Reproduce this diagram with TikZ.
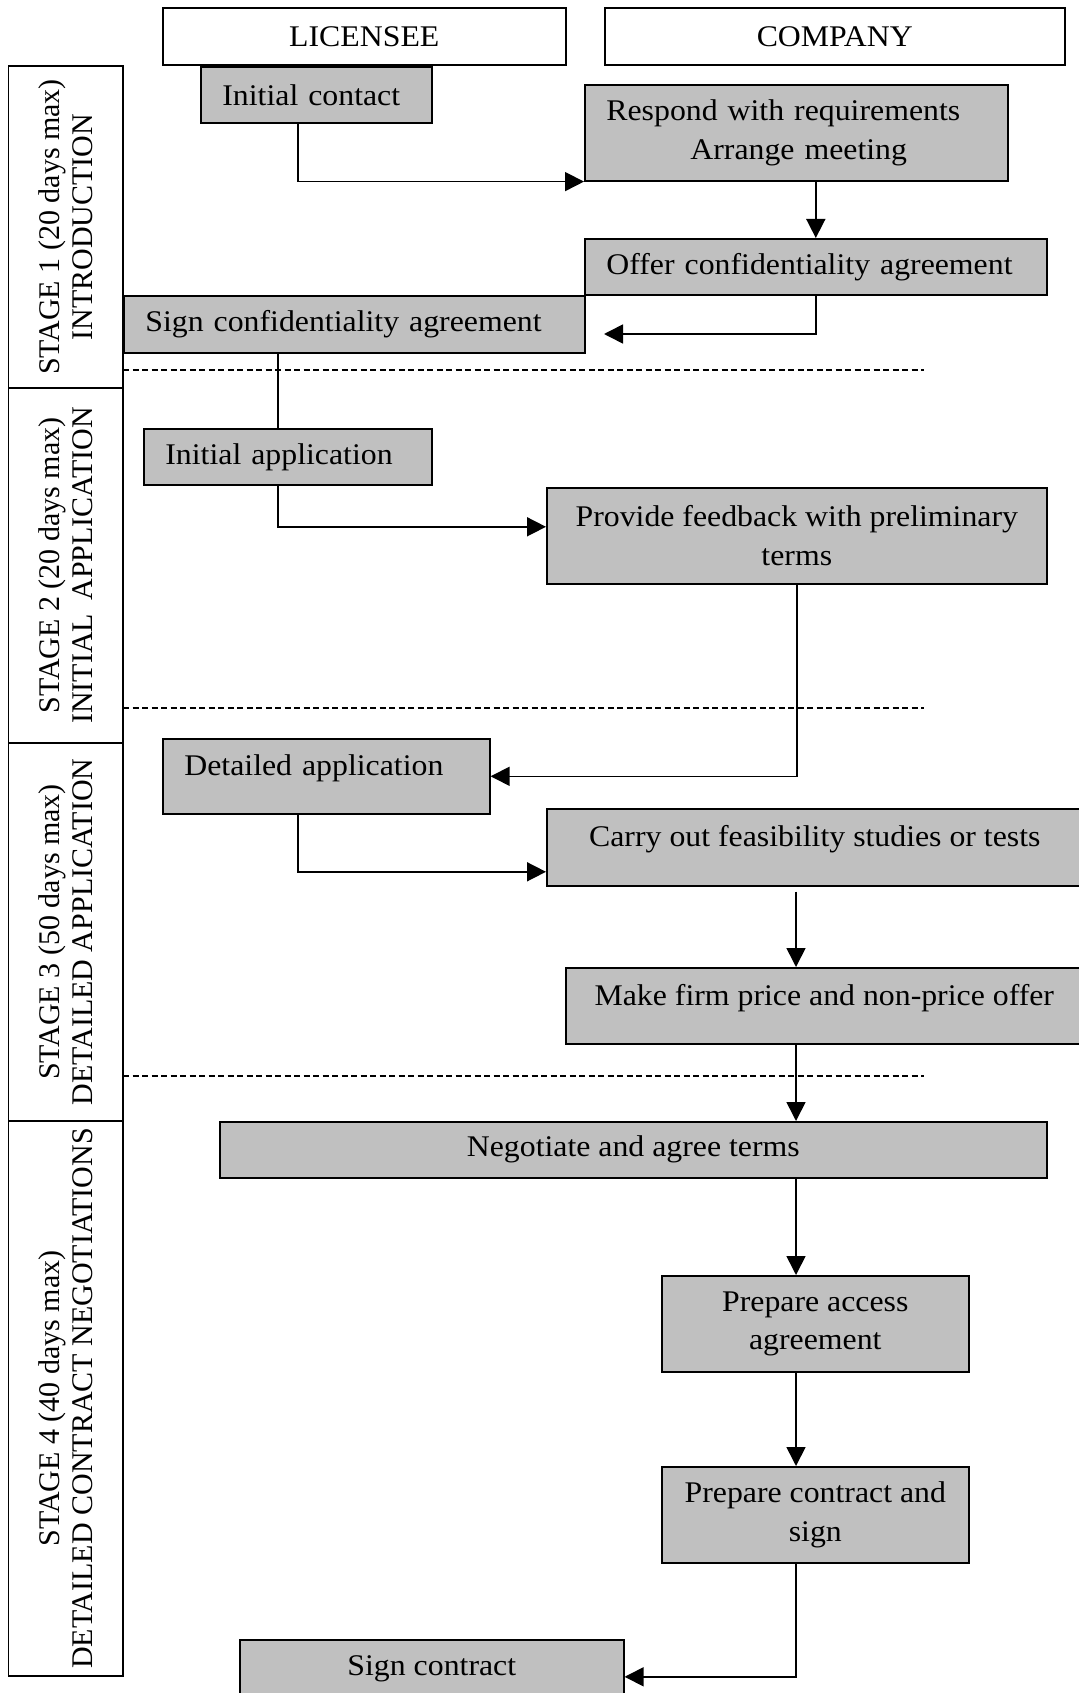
\documentclass[tikz,border=0pt]{standalone}
\usepackage{fontspec}
\setmainfont[FakeStretch=1.06]{Liberation Serif}
\newfontfamily\stagefont{Liberation Serif}
\usetikzlibrary{arrows.meta,calc}

\definecolor{boxgray}{HTML}{C0C0C0}

\begin{document}
\begin{tikzpicture}[x=1pt, y=-1pt,
  font=\fontsize{30}{38.5}\selectfont,
  head/.style={draw, line width=1.6pt, fill=white, anchor=north west, inner sep=0pt},
  stage/.style={draw, line width=1.6pt, rotate=90, align=center, inner sep=0pt,
    minimum height=114.5pt, font=\stagefont\fontsize{30}{32.5}\selectfont},
  box/.style={draw, line width=1.6pt, fill=boxgray, anchor=north west, inner ysep=0pt},
  lbox/.style={box, inner xsep=21.6pt, align=left},
  cbox/.style={box, inner xsep=0pt, align=center},
  raised/.style={text depth=22pt},
  link/.style={line width=1.6pt},
  arr/.style={link, -{Triangle[length=19pt, width=19pt]}},
  sep/.style={line width=1.2pt, dash pattern=on 6pt off 3.5pt}]
  \useasboundingbox (0,0) rectangle (1078,1693);

  % column heads
  \node[head, minimum width=403pt, minimum height=56.5pt] (lic) at (162,7.5) {LICENSEE};
  \node[head, minimum width=460pt, minimum height=56.5pt] (comp) at (604,7.5) {COMPANY};

  % stage column
  \node[stage, minimum width=322pt] (s1) at (65.8,227) {STAGE 1 (20 days max)\\INTRODUCTION};
  \node[stage, minimum width=355pt] (s2) at (65.8,565.5) {STAGE 2 (20 days max)\\INITIAL\hspace{0.45em}APPLICATION};
  \node[stage, minimum width=378pt] (s3) at (65.8,932) {STAGE 3 (50 days max)\\DETAILED APPLICATION};
  \node[stage, minimum width=555pt] (s4) at (65.8,1398.5) {STAGE 4 (40 days max)\\DETAILED CONTRACT NEGOTIATIONS};

  % stage separators
  \draw[sep] (123,370) -- (924,370);
  \draw[sep] (123,708) -- (924,708);
  \draw[sep] (123,1076) -- (924,1076);

  % steps
  \node[lbox, text width=187.8pt, minimum height=56pt] (ic) at (200,66) {Initial contact};
  \node[lbox, text width=379.8pt, minimum height=96pt] (resp) at (584,84) {Respond with requirements\\\hspace*{84pt}Arrange meeting};
  \node[lbox, text width=418.8pt, minimum height=56pt] (offer) at (584,238) {Offer confidentiality agreement};
  \node[lbox, text width=417.8pt, minimum height=57pt] (sign) at (123,295) {Sign confidentiality agreement};
  \node[lbox, text width=244.8pt, minimum height=56pt] (ia) at (143,428) {Initial application};
  \node[cbox, minimum width=500pt, minimum height=96pt] (prov) at (546,487) {Provide feedback with preliminary\\terms};
  \node[lbox, raised, text width=283.8pt, minimum height=75pt] (det) at (162,738) {Detailed application};
  \node[cbox, raised, minimum width=536pt, minimum height=77pt] (carry) at (546,808) {Carry out feasibility studies or tests};
  \node[cbox, raised, minimum width=517pt, minimum height=76pt] (make) at (565,967) {Make firm price and non-price offer};
  \node[cbox, minimum width=827pt, minimum height=56pt] (neg) at (219,1121) {Negotiate and agree terms};
  \node[cbox, minimum width=307pt, minimum height=96pt] (pa) at (661,1275) {Prepare access\\agreement};
  \node[cbox, minimum width=307pt, minimum height=96pt] (pc) at (661,1466) {Prepare contract and\\sign};
  \node[cbox, raised, minimum width=384pt, minimum height=74pt] (sc) at (239,1639) {Sign contract};

  \coordinate (spine) at (796,0);
  \coordinate (signin) at (604,334);

  % flow
  \draw[arr] ([xshift=-18.5pt]ic.south) |- (resp.south west);
  \draw[arr] (resp.south -| offer.north) -- (offer.north);
  \draw[arr] (offer.south) |- (signin);
  \draw[link] ([xshift=-76.5pt]sign.south) -- ([xshift=-10pt]ia.north);
  \draw[arr] ([xshift=-10pt]ia.south) |- ($(prov.west)+(0,-9)$);
  \draw[arr] (prov.south) |- (det.east);
  \draw[arr] ([xshift=-28.5pt]det.south) |- ($(carry.west)+(0,24.5)$);
  \draw[arr, shorten <=5pt] (carry.south -| spine) -- (make.north -| spine);
  \draw[arr] (make.south -| spine) -- (neg.north -| spine);
  \draw[arr] (neg.south -| spine) -- (pa.north -| spine);
  \draw[arr] (pa.south -| spine) -- (pc.north -| spine);
  \draw[arr] (pc.south -| spine) |- (sc.east);
\end{tikzpicture}
\end{document}
